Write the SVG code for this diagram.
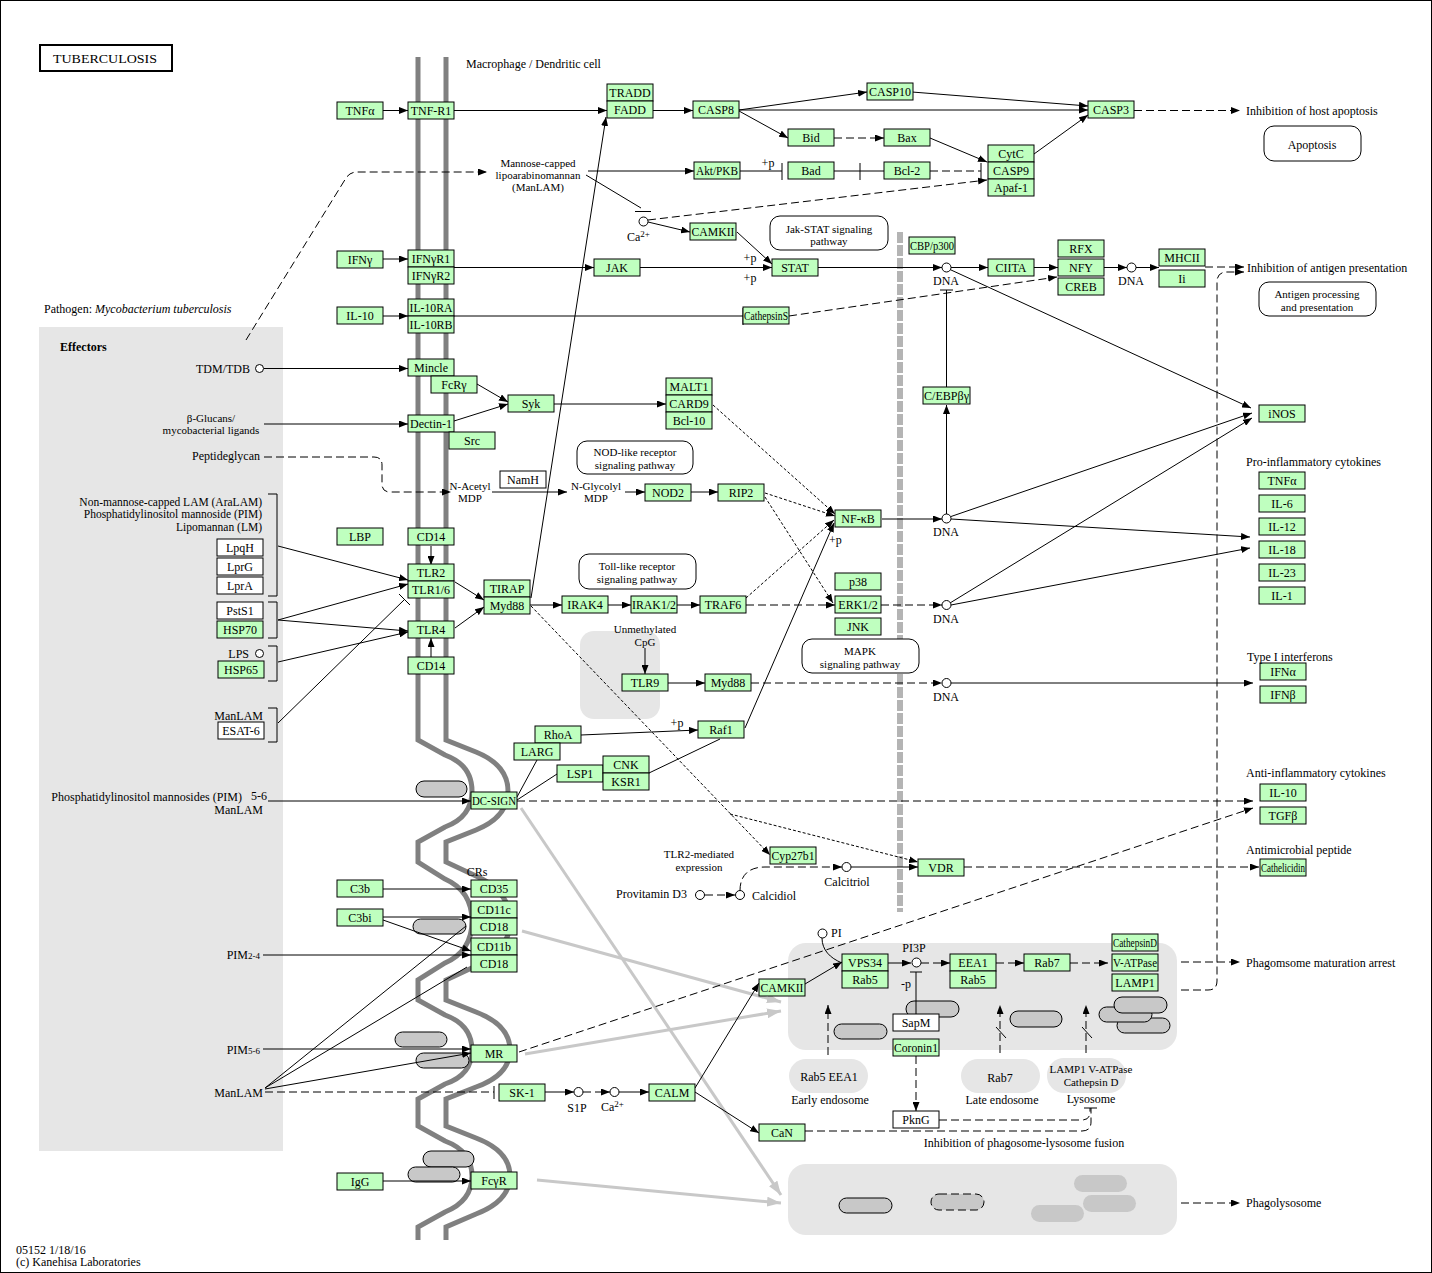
<svg xmlns="http://www.w3.org/2000/svg" width="1432" height="1273" viewBox="0 0 1432 1273">
<style>
.g{fill:#bfffbf;stroke:#000;stroke-width:1}
.w{fill:#fff;stroke:#000;stroke-width:1}
.t{font-family:"Liberation Serif",serif;font-size:12px;text-anchor:middle;fill:#000}
.s{font-family:"Liberation Serif",serif;font-size:11px;text-anchor:middle;fill:#000}
.l{font-family:"Liberation Serif",serif;font-size:12px;text-anchor:start;fill:#000}
.r{font-family:"Liberation Serif",serif;font-size:12px;text-anchor:end;fill:#000}
.rs{font-family:"Liberation Serif",serif;font-size:11.5px;text-anchor:end;fill:#000}
.ln{fill:none;stroke:#000;stroke-width:1}
.ds{stroke-dasharray:8,4}
.dt{stroke-dasharray:3,2}
.ov{fill:#c8c8c8;stroke:#000;stroke-width:1}
.ovn{fill:#c8c8c8;stroke:none}
.gr{fill:none;stroke:#c8c8c8;stroke-width:3}
.mem{fill:none;stroke:#808080;stroke-width:5}
.bg{fill:#e6e6e6;stroke:none}
.rb{fill:#fff;stroke:#000;stroke-width:1}
.ci{fill:#fff;stroke:#000;stroke-width:1}
</style>
<defs>
<marker id="a" viewBox="0 0 9 7" refX="9" refY="3.5" markerWidth="9" markerHeight="7" markerUnits="userSpaceOnUse" orient="auto"><path d="M0,0 L9,3.5 L0,7 z" fill="#000"/></marker>
<marker id="ag" viewBox="0 0 14 10" refX="14" refY="5" markerWidth="14" markerHeight="10" markerUnits="userSpaceOnUse" orient="auto"><path d="M0,0 L14,5 L0,10 z" fill="#c8c8c8"/></marker>
</defs>
<rect x="0.5" y="0.5" width="1431" height="1272" fill="#fff" stroke="#000"/>

<g id="backgrounds">
<rect class="bg" x="39" y="327" width="244" height="824"/>
<rect class="bg" x="580" y="631" width="80" height="88" rx="14"/>
<rect class="bg" x="788" y="943" width="389" height="107" rx="18"/>
<rect class="bg" x="788" y="1164" width="389" height="71" rx="18"/>
<rect class="bg" x="789" y="1059" width="79" height="34" rx="17"/>
<rect class="bg" x="961" y="1059" width="79" height="34" rx="17"/>
<rect class="bg" x="1047" y="1058" width="79" height="35" rx="17"/>
</g>

<g id="membrane">
<path class="mem" d="M418,57 V740 L445,755 Q472,765 472,791 Q472,817 445,827 L418,842 V862 L445,879 Q472,891 472,921 Q472,951 445,963 L418,980 V1000 L445,1015 Q472,1025 472,1050 Q472,1075 445,1084 L418,1099 V1126 L445,1141 Q472,1151 472,1176 Q472,1201 445,1212 L418,1227 V1240"/>
<path class="mem" d="M446,57 V740 L476,752 Q508,765 508,791 Q508,817 476,830 L446,842 V862 L476,876 Q510,891 510,921 Q510,951 476,966 L446,980 V1000 L476,1012 Q510,1025 510,1050 Q510,1075 476,1087 L446,1099 V1126 L476,1138 Q510,1151 510,1176 Q510,1201 476,1214 L446,1227 V1240"/>
</g>
<line x1="900" y1="232" x2="900" y2="912" stroke="#b4b4b4" stroke-width="6" stroke-dasharray="11,2"/>

<g id="ovals">
<rect class="ov" x="416" y="781" width="51" height="16" rx="8"/>
<rect class="ov" x="413" y="919" width="53" height="15" rx="7.5"/>
<rect class="ov" x="395" y="1032" width="52" height="15" rx="7.5"/>
<rect class="ov" x="416" y="1053" width="53" height="15" rx="7.5"/>
<rect class="ov" x="423" y="1151" width="51" height="16" rx="8"/>
<rect class="ov" x="408" y="1167" width="52" height="15" rx="7.5"/>
<rect class="ov" x="906" y="1001" width="53" height="16" rx="8"/>
<rect class="ov" x="834" y="1024" width="53" height="15" rx="7.5"/>
<rect class="ov" x="1010" y="1011" width="52" height="16" rx="8"/>
<rect class="ov" x="1117" y="1018" width="53" height="15" rx="7.5"/>
<rect class="ov" x="1099" y="1007" width="53" height="15" rx="7.5"/>
<rect class="ov" x="1114" y="997" width="53" height="16" rx="8"/>
<rect class="ov" x="839" y="1198" width="53" height="15" rx="7.5"/>
<rect class="ov" x="931" y="1194" width="53" height="16" rx="8" stroke-dasharray="8,4"/>
<rect class="ovn" x="1074" y="1175" width="53" height="17" rx="8.5"/>
<rect class="ovn" x="1083" y="1195" width="53" height="17" rx="8.5"/>
<rect class="ovn" x="1031" y="1205" width="53" height="17" rx="8.5"/>
</g>

<g id="connectors">
<path class="gr" marker-end="url(#ag)" d="M521,808 L781,1195"/>
<path class="gr" marker-end="url(#ag)" d="M522,931 L781,1002"/>
<path class="gr" marker-end="url(#ag)" d="M525,1054 L781,1011"/>
<path class="gr" marker-end="url(#ag)" d="M537,1180 L781,1203"/>

<path class="ln" marker-end="url(#a)" d="M383,110.5 H408"/>
<path class="ln" marker-end="url(#a)" d="M454,110.5 H607"/>
<path class="ln" marker-end="url(#a)" d="M653,110.5 H693"/>
<path class="ln" marker-end="url(#a)" d="M739,110 L867,92"/>
<path class="ln" marker-end="url(#a)" d="M739,110 H1088"/>
<path class="ln" marker-end="url(#a)" d="M912,92 L1088,106"/>
<path class="ln" marker-end="url(#a)" d="M739,111 L788,138"/>
<path class="ln ds" marker-end="url(#a)" d="M834,138 H884"/>
<path class="ln" marker-end="url(#a)" d="M930,138 L987,162"/>
<path class="ln" marker-end="url(#a)" d="M1034,154 L1088,115"/>
<path class="ln ds" d="M930,171 H981"/>
<path class="ln" d="M981,163 V179"/>
<path class="ln ds" marker-end="url(#a)" d="M648,220 L987,180"/>
<path class="ln ds" marker-end="url(#a)" d="M1134,110.5 H1240"/>
<path class="ln" marker-end="url(#a)" d="M588,171 H694"/>
<path class="ln" d="M740,171 H782 M782,163 V180"/>
<path class="ln" d="M834,171 H884 M860,163 V180"/>
<path class="ln" d="M586,175 L641,208 M635,211.5 H651"/>
<path class="ln" marker-end="url(#a)" d="M648,222 L690,232"/>
<path class="ln" marker-end="url(#a)" d="M737,232 L772,264"/>
<path class="ln" marker-end="url(#a)" d="M383,259 H408"/>
<path class="ln" marker-end="url(#a)" d="M454,267.5 H594"/>
<path class="ln" marker-end="url(#a)" d="M640,267.5 H772"/>
<path class="ln" marker-end="url(#a)" d="M818,267.5 H942"/>
<path class="ln" marker-end="url(#a)" d="M951,267.5 H988"/>
<path class="ln" marker-end="url(#a)" d="M1034,267.5 H1058"/>
<path class="ln" marker-end="url(#a)" d="M1104,267.5 H1127"/>
<path class="ln" marker-end="url(#a)" d="M1136,267.5 H1159"/>
<path class="ln ds" marker-end="url(#a)" d="M1205,267 H1244"/>
<path class="ln ds" marker-end="url(#a)" d="M1181,990 H1208 Q1217,990 1217,981 V282 Q1217,272 1227,272 H1244"/>
<path class="ln ds" marker-end="url(#a)" d="M789,316 L1057,277"/>
<path class="ln" marker-end="url(#a)" d="M383,316 H408"/>
<path class="ln" d="M454,316 H743 M743,308 V325"/>
<path class="ln" d="M946.5,290 V387 M940,290 H953"/>
<path class="ln" marker-end="url(#a)" d="M946.5,514 V405"/>
<path class="ln" marker-end="url(#a)" d="M950,269.5 L1251,408"/>
<path class="ln" marker-end="url(#a)" d="M951,516.5 L1252,413"/>
<path class="ln" marker-end="url(#a)" d="M950,603 L1252,418"/>
<path class="ln" marker-end="url(#a)" d="M951,519 L1250,537"/>
<path class="ln" marker-end="url(#a)" d="M951,605 L1250,548"/>
<path class="ln" marker-end="url(#a)" d="M951,683 H1253"/>
<path class="ln" marker-end="url(#a)" d="M882,519 H942"/>
<path class="ln ds" marker-end="url(#a)" d="M881,605 H942"/>
<path class="ln ds" marker-end="url(#a)" d="M751,683 H942"/>

<path class="ln" marker-end="url(#a)" d="M264,368.5 H408"/>
<path class="ln" marker-end="url(#a)" d="M477,384 L508,402"/>
<path class="ln" marker-end="url(#a)" d="M454,421 L508,404"/>
<path class="ln" marker-end="url(#a)" d="M554,404 H666"/>
<path class="ln dt" marker-end="url(#a)" d="M713,405 L835,514"/>
<path class="ln" marker-end="url(#a)" d="M264,424 H408"/>
<path class="ln ds" marker-end="url(#a)" d="M264,457 H374 Q382,457 382,465 V484 Q382,492 390,492 H451"/>
<path class="ln" marker-end="url(#a)" d="M492,492 H567"/>
<path class="ln" marker-end="url(#a)" d="M625,492 H645"/>
<path class="ln" marker-end="url(#a)" d="M691,492 H718"/>
<path class="ln dt" marker-end="url(#a)" d="M765,493 L835,516"/>
<path class="ln dt" marker-end="url(#a)" d="M765,497 L833,603"/>
<path class="ln dt" marker-end="url(#a)" d="M746,598 L834,520"/>
<path class="ln ds" marker-end="url(#a)" d="M746,605 H835"/>
<path class="ln" marker-end="url(#a)" d="M745,728 L834,523"/>
<path class="ln" marker-end="url(#a)" d="M530,605 H562"/>
<path class="ln" marker-end="url(#a)" d="M608,605 H631"/>
<path class="ln" marker-end="url(#a)" d="M677,605 H700"/>
<path class="ln" marker-end="url(#a)" d="M531,598 L606,117"/>
<path class="ln dt" marker-end="url(#a)" d="M531,606 L770,855"/>
<path class="ln dt" marker-end="url(#a)" d="M730,814 L918,862"/>
<path class="ln" marker-end="url(#a)" d="M581,735 L698,730"/>
<path class="ln" d="M649,773 L720,739"/>
<path class="ln" d="M517,797 L537,760"/>
<path class="ln" d="M517,800 L557,774"/>
<path class="ln ds" marker-end="url(#a)" d="M517,801 H1253"/>
<path class="ln" marker-end="url(#a)" d="M268,801 H471"/>
<path class="ln" marker-end="url(#a)" d="M383,889 H471"/>
<path class="ln" marker-end="url(#a)" d="M383,917 H471"/>
<path class="ln" marker-end="url(#a)" d="M383,920 L471,951"/>
<path class="ln" marker-end="url(#a)" d="M263,955 H471"/>
<path class="ln" d="M265,1088 L466,926"/>
<path class="ln" d="M265,1088 L467,967"/>
<path class="ln" marker-end="url(#a)" d="M265,1089 L471,1053"/>
<path class="ln" marker-end="url(#a)" d="M263,1049 H471"/>
<path class="ln ds" d="M265,1092 H494"/>
<path class="ln" d="M494,1086 V1099"/>
<path class="ln" marker-end="url(#a)" d="M545,1092 H574"/>
<path class="ln ds" marker-end="url(#a)" d="M583,1092 H610"/>
<path class="ln" marker-end="url(#a)" d="M619,1092 H649"/>
<path class="ln" marker-end="url(#a)" d="M695,1088 L759,983"/>
<path class="ln" marker-end="url(#a)" d="M695,1092 L759,1133"/>
<path class="ln" marker-end="url(#a)" d="M805,984 L842,962"/>
<path class="ln" d="M822,938 C822,950 830,958 842,963"/>
<path class="ln ds" marker-end="url(#a)" d="M519,1052 L1253,808"/>
<path class="ln" marker-end="url(#a)" d="M887,963 H911"/>
<path class="ln ds" marker-end="url(#a)" d="M921,963 H950"/>
<path class="ln ds" marker-end="url(#a)" d="M996,963 H1024"/>
<path class="ln ds" marker-end="url(#a)" d="M1070,963 H1108"/>
<path class="ln ds" marker-end="url(#a)" d="M1181,962 H1240"/>
<path class="ln ds" marker-end="url(#a)" d="M705,895 H735"/>
<path class="ln ds" marker-end="url(#a)" d="M740,890.5 C740,876 748,867 765,867 H842"/>
<path class="ln" marker-end="url(#a)" d="M851,867 H918"/>
<path class="ln ds" marker-end="url(#a)" d="M964,867 H1259"/>
<path class="ln" d="M916,1014 V972 M910,972 H922"/>
<path class="ln ds" marker-end="url(#a)" d="M916,1056 V1111"/>
<path class="ln ds" d="M939,1120 H1082 Q1090,1120 1090,1112 V1108"/>
<path class="ln ds" d="M805,1131 H1082 Q1091,1131 1091,1122 V1108"/>
<path class="ln" d="M1084,1108 H1097"/>
<path class="ln ds" marker-end="url(#a)" d="M828,1055 V1005"/>
<path class="ln ds" marker-end="url(#a)" d="M1000,1053 V1005"/>
<path class="ln" d="M996,1027 L1006,1038"/>
<path class="ln ds" marker-end="url(#a)" d="M1086,1053 V1005"/>
<path class="ln" d="M1082,1027 L1092,1038"/>
<path class="ln ds" marker-end="url(#a)" d="M1181,1203 H1240"/>

<path class="ln" marker-end="url(#a)" d="M431,546 V565"/>
<path class="ln" marker-end="url(#a)" d="M431,657 V638"/>
<path class="ln" marker-end="url(#a)" d="M455,582 L484,600"/>
<path class="ln" marker-end="url(#a)" d="M455,628 L484,607"/>
<path class="ln" marker-end="url(#a)" d="M278,546 L408,580"/>
<path class="ln" marker-end="url(#a)" d="M278,620 L408,584"/>
<path class="ln" marker-end="url(#a)" d="M278,620 L408,631"/>
<path class="ln" marker-end="url(#a)" d="M278,662 L408,632"/>
<path class="ln" d="M278,723 L404,600 M399,594 L410,605"/>
<path class="ln" marker-end="url(#a)" d="M645,648 V674"/>
<path class="ln" marker-end="url(#a)" d="M668,683 H705"/>
<path class="ln" marker-end="url(#a)" d="M383,1181 H471"/>
<path class="ln ds" marker-end="url(#a)" d="M246,340 L346,178 Q350,172 357,172 H487"/>

<path class="ln" d="M268,494 H277 V596 H268"/>
<path class="ln" d="M268,602 H277 V638 H268"/>
<path class="ln" d="M268,646 H277 V681 H268"/>
<path class="ln" d="M268,708 H277 V742 H268"/>
</g>

<g id="compounds">
<circle class="ci" cx="259.5" cy="368.5" r="4"/>
<circle class="ci" cx="259.5" cy="653.5" r="4"/>
<circle class="ci" cx="643.5" cy="221.5" r="4.5"/>
<circle class="ci" cx="946.5" cy="267.5" r="4.5"/>
<circle class="ci" cx="1131.5" cy="267.5" r="4.5"/>
<circle class="ci" cx="946.5" cy="518.5" r="4.5"/>
<circle class="ci" cx="946.5" cy="605" r="4.5"/>
<circle class="ci" cx="946.5" cy="683" r="4.5"/>
<circle class="ci" cx="700" cy="895" r="4.5"/>
<circle class="ci" cx="740" cy="895" r="4.5"/>
<circle class="ci" cx="846.5" cy="867" r="4.5"/>
<circle class="ci" cx="578.5" cy="1092" r="4.5"/>
<circle class="ci" cx="614.5" cy="1092" r="4.5"/>
<circle class="ci" cx="822.5" cy="933.5" r="4.5"/>
<circle class="ci" cx="916.5" cy="962.5" r="4.5"/>
</g>

<g id="pathway-boxes">
<rect class="rb" x="1264" y="126" width="97" height="35" rx="10"/>
<rect class="rb" x="770" y="216" width="118" height="34" rx="10"/>
<rect class="rb" x="1259" y="282" width="117" height="34" rx="10"/>
<rect class="rb" x="577" y="441" width="116" height="33" rx="10"/>
<rect class="rb" x="579" y="554" width="117" height="35" rx="10"/>
<rect class="rb" x="802" y="639" width="117" height="34" rx="10"/>
<rect x="40" y="45" width="132" height="26" fill="#fff" stroke="#000" stroke-width="2"/>
</g>

<g id="nodes">
<g id="n-TNFa"><rect class="g" x="337" y="102" width="46" height="17"/><text class="t" x="360" y="115">TNFα</text></g>
<g id="n-TNFR1"><rect class="g" x="408" y="102" width="46" height="17"/><text class="t" x="431" y="115">TNF-R1</text></g>
<g id="n-TRADD"><rect class="g" x="607" y="84" width="46" height="17"/><text class="t" x="630" y="97">TRADD</text></g>
<g id="n-FADD"><rect class="g" x="607" y="101" width="46" height="17"/><text class="t" x="630" y="114">FADD</text></g>
<g id="n-CASP8"><rect class="g" x="693" y="101" width="46" height="17"/><text class="t" x="716" y="114">CASP8</text></g>
<g id="n-CASP10"><rect class="g" x="867" y="83" width="46" height="17"/><text class="t" x="890" y="96">CASP10</text></g>
<g id="n-CASP3"><rect class="g" x="1088" y="101" width="46" height="17"/><text class="t" x="1111" y="114">CASP3</text></g>
<g id="n-Bid"><rect class="g" x="788" y="129" width="46" height="17"/><text class="t" x="811" y="142">Bid</text></g>
<g id="n-Bax"><rect class="g" x="884" y="129" width="46" height="17"/><text class="t" x="907" y="142">Bax</text></g>
<g id="n-Akt"><rect class="g" x="694" y="162" width="46" height="17"/><text class="t" x="717" y="175" textLength="42" lengthAdjust="spacingAndGlyphs">Akt/PKB</text></g>
<g id="n-Bad"><rect class="g" x="788" y="162" width="46" height="17"/><text class="t" x="811" y="175">Bad</text></g>
<g id="n-Bcl2"><rect class="g" x="884" y="162" width="46" height="17"/><text class="t" x="907" y="175">Bcl-2</text></g>
<g id="n-CytC"><rect class="g" x="988" y="145" width="46" height="17"/><text class="t" x="1011" y="158">CytC</text></g>
<g id="n-CASP9"><rect class="g" x="988" y="162" width="46" height="17"/><text class="t" x="1011" y="175">CASP9</text></g>
<g id="n-Apaf1"><rect class="g" x="988" y="179" width="46" height="17"/><text class="t" x="1011" y="192">Apaf-1</text></g>
<g id="n-CAMKII"><rect class="g" x="690" y="223" width="46" height="17"/><text class="t" x="713" y="236" textLength="43" lengthAdjust="spacingAndGlyphs">CAMKII</text></g>
<g id="n-IFNg"><rect class="g" x="337" y="251" width="46" height="17"/><text class="t" x="360" y="264">IFNγ</text></g>
<g id="n-IFNgR1"><rect class="g" x="408" y="250" width="46" height="17"/><text class="t" x="431" y="263">IFNγR1</text></g>
<g id="n-IFNgR2"><rect class="g" x="408" y="267" width="46" height="17"/><text class="t" x="431" y="280">IFNγR2</text></g>
<g id="n-JAK"><rect class="g" x="594" y="259" width="46" height="17"/><text class="t" x="617" y="272">JAK</text></g>
<g id="n-STAT"><rect class="g" x="772" y="259" width="46" height="17"/><text class="t" x="795" y="272">STAT</text></g>
<g id="n-CBP"><rect class="g" x="909" y="237" width="46" height="17"/><text class="t" x="932" y="250" textLength="44" lengthAdjust="spacingAndGlyphs">CBP/p300</text></g>
<g id="n-CIITA"><rect class="g" x="988" y="259" width="46" height="17"/><text class="t" x="1011" y="272">CIITA</text></g>
<g id="n-RFX"><rect class="g" x="1058" y="240" width="46" height="17"/><text class="t" x="1081" y="253">RFX</text></g>
<g id="n-NFY"><rect class="g" x="1058" y="259" width="46" height="17"/><text class="t" x="1081" y="272">NFY</text></g>
<g id="n-CREB"><rect class="g" x="1058" y="278" width="46" height="17"/><text class="t" x="1081" y="291">CREB</text></g>
<g id="n-MHCII"><rect class="g" x="1159" y="249" width="46" height="17"/><text class="t" x="1182" y="262">MHCII</text></g>
<g id="n-Ii"><rect class="g" x="1159" y="270" width="46" height="17"/><text class="t" x="1182" y="283">Ii</text></g>
<g id="n-IL10"><rect class="g" x="337" y="307" width="46" height="17"/><text class="t" x="360" y="320">IL-10</text></g>
<g id="n-IL10RA"><rect class="g" x="408" y="299" width="46" height="17"/><text class="t" x="431" y="312" textLength="43" lengthAdjust="spacingAndGlyphs">IL-10RA</text></g>
<g id="n-IL10RB"><rect class="g" x="408" y="316" width="46" height="17"/><text class="t" x="431" y="329" textLength="43" lengthAdjust="spacingAndGlyphs">IL-10RB</text></g>
<g id="n-CathepsinS"><rect class="g" x="743" y="307" width="46" height="17"/><text class="t" x="766" y="320" textLength="44" lengthAdjust="spacingAndGlyphs">CathepsinS</text></g>
<g id="n-Mincle"><rect class="g" x="408" y="359" width="46" height="17"/><text class="t" x="431" y="372">Mincle</text></g>
<g id="n-FcRg"><rect class="g" x="431" y="376" width="46" height="17"/><text class="t" x="454" y="389">FcRγ</text></g>
<g id="n-Dectin1"><rect class="g" x="408" y="415" width="46" height="17"/><text class="t" x="431" y="428">Dectin-1</text></g>
<g id="n-Src"><rect class="g" x="449" y="432" width="46" height="17"/><text class="t" x="472" y="445">Src</text></g>
<g id="n-Syk"><rect class="g" x="508" y="395" width="46" height="17"/><text class="t" x="531" y="408">Syk</text></g>
<g id="n-MALT1"><rect class="g" x="666" y="378" width="46" height="17"/><text class="t" x="689" y="391">MALT1</text></g>
<g id="n-CARD9"><rect class="g" x="666" y="395" width="46" height="17"/><text class="t" x="689" y="408">CARD9</text></g>
<g id="n-Bcl10"><rect class="g" x="666" y="412" width="46" height="17"/><text class="t" x="689" y="425">Bcl-10</text></g>
<g id="n-iNOS"><rect class="g" x="1259" y="405" width="46" height="17"/><text class="t" x="1282" y="418">iNOS</text></g>
<g id="n-CEBP"><rect class="g" x="923" y="387" width="47" height="17"/><text class="t" x="946.5" y="400" textLength="45" lengthAdjust="spacingAndGlyphs">C/EBPβγ</text></g>
<g id="n-NamH"><rect class="w" x="500" y="471" width="46" height="17"/><text class="t" x="523" y="484">NamH</text></g>
<g id="n-NOD2"><rect class="g" x="645" y="484" width="46" height="17"/><text class="t" x="668" y="497">NOD2</text></g>
<g id="n-RIP2"><rect class="g" x="718" y="484" width="46" height="17"/><text class="t" x="741" y="497">RIP2</text></g>
<g id="n-NFkB"><rect class="g" x="835" y="510" width="46" height="17"/><text class="t" x="858" y="523">NF-κB</text></g>
<g id="n-TNFa2"><rect class="g" x="1259" y="472" width="46" height="17"/><text class="t" x="1282" y="485">TNFα</text></g>
<g id="n-IL6"><rect class="g" x="1259" y="495" width="46" height="17"/><text class="t" x="1282" y="508">IL-6</text></g>
<g id="n-IL12"><rect class="g" x="1259" y="518" width="46" height="17"/><text class="t" x="1282" y="531">IL-12</text></g>
<g id="n-IL18"><rect class="g" x="1259" y="541" width="46" height="17"/><text class="t" x="1282" y="554">IL-18</text></g>
<g id="n-IL23"><rect class="g" x="1259" y="564" width="46" height="17"/><text class="t" x="1282" y="577">IL-23</text></g>
<g id="n-IL1"><rect class="g" x="1259" y="587" width="46" height="17"/><text class="t" x="1282" y="600">IL-1</text></g>
<g id="n-LBP"><rect class="g" x="337" y="528" width="46" height="17"/><text class="t" x="360" y="541">LBP</text></g>
<g id="n-CD14a"><rect class="g" x="408" y="528" width="46" height="17"/><text class="t" x="431" y="541">CD14</text></g>
<g id="n-TLR2"><rect class="g" x="408" y="564" width="46" height="17"/><text class="t" x="431" y="577">TLR2</text></g>
<g id="n-TLR16"><rect class="g" x="408" y="581" width="46" height="17"/><text class="t" x="431" y="594">TLR1/6</text></g>
<g id="n-TLR4"><rect class="g" x="408" y="621" width="46" height="17"/><text class="t" x="431" y="634">TLR4</text></g>
<g id="n-CD14b"><rect class="g" x="408" y="657" width="46" height="17"/><text class="t" x="431" y="670">CD14</text></g>
<g id="n-LpqH"><rect class="w" x="217" y="539" width="46" height="17"/><text class="t" x="240" y="552">LpqH</text></g>
<g id="n-LprG"><rect class="w" x="217" y="558" width="46" height="17"/><text class="t" x="240" y="571">LprG</text></g>
<g id="n-LprA"><rect class="w" x="217" y="577" width="46" height="17"/><text class="t" x="240" y="590">LprA</text></g>
<g id="n-PstS1"><rect class="w" x="217" y="602" width="46" height="17"/><text class="t" x="240" y="615">PstS1</text></g>
<g id="n-HSP70"><rect class="g" x="217" y="621" width="46" height="17"/><text class="t" x="240" y="634">HSP70</text></g>
<g id="n-HSP65"><rect class="g" x="218" y="661" width="46" height="17"/><text class="t" x="241" y="674">HSP65</text></g>
<g id="n-ESAT6"><rect class="w" x="218" y="722" width="46" height="17"/><text class="t" x="241" y="735">ESAT-6</text></g>
<g id="n-TIRAP"><rect class="g" x="484" y="580" width="46" height="17"/><text class="t" x="507" y="593">TIRAP</text></g>
<g id="n-Myd88a"><rect class="g" x="484" y="597" width="46" height="17"/><text class="t" x="507" y="610">Myd88</text></g>
<g id="n-IRAK4"><rect class="g" x="562" y="596" width="46" height="17"/><text class="t" x="585" y="609">IRAK4</text></g>
<g id="n-IRAK12"><rect class="g" x="631" y="596" width="46" height="17"/><text class="t" x="654" y="609" textLength="44" lengthAdjust="spacingAndGlyphs">IRAK1/2</text></g>
<g id="n-TRAF6"><rect class="g" x="700" y="596" width="46" height="17"/><text class="t" x="723" y="609">TRAF6</text></g>
<g id="n-p38"><rect class="g" x="835" y="573" width="46" height="17"/><text class="t" x="858" y="586">p38</text></g>
<g id="n-ERK"><rect class="g" x="835" y="596" width="46" height="17"/><text class="t" x="858" y="609">ERK1/2</text></g>
<g id="n-JNK"><rect class="g" x="835" y="618" width="46" height="17"/><text class="t" x="858" y="631">JNK</text></g>
<g id="n-TLR9"><rect class="g" x="622" y="674" width="46" height="17"/><text class="t" x="645" y="687">TLR9</text></g>
<g id="n-Myd88b"><rect class="g" x="705" y="674" width="46" height="17"/><text class="t" x="728" y="687">Myd88</text></g>
<g id="n-IFNa"><rect class="g" x="1260" y="663" width="46" height="17"/><text class="t" x="1283" y="676">IFNα</text></g>
<g id="n-IFNb"><rect class="g" x="1260" y="686" width="46" height="17"/><text class="t" x="1283" y="699">IFNβ</text></g>
<g id="n-Raf1"><rect class="g" x="698" y="721" width="46" height="17"/><text class="t" x="721" y="734">Raf1</text></g>
<g id="n-RhoA"><rect class="g" x="535" y="726" width="46" height="17"/><text class="t" x="558" y="739">RhoA</text></g>
<g id="n-LARG"><rect class="g" x="514" y="743" width="46" height="17"/><text class="t" x="537" y="756">LARG</text></g>
<g id="n-LSP1"><rect class="g" x="557" y="765" width="46" height="17"/><text class="t" x="580" y="778">LSP1</text></g>
<g id="n-CNK"><rect class="g" x="603" y="756" width="46" height="17"/><text class="t" x="626" y="769">CNK</text></g>
<g id="n-KSR1"><rect class="g" x="603" y="773" width="46" height="17"/><text class="t" x="626" y="786">KSR1</text></g>
<g id="n-DCSIGN"><rect class="g" x="471" y="792" width="46" height="17"/><text class="t" x="494" y="805" textLength="44" lengthAdjust="spacingAndGlyphs">DC-SIGN</text></g>
<g id="n-IL10b"><rect class="g" x="1260" y="784" width="46" height="17"/><text class="t" x="1283" y="797">IL-10</text></g>
<g id="n-TGFb"><rect class="g" x="1260" y="807" width="46" height="17"/><text class="t" x="1283" y="820">TGFβ</text></g>
<g id="n-Cyp27b1"><rect class="g" x="770" y="847" width="46" height="17"/><text class="t" x="793" y="860" textLength="43" lengthAdjust="spacingAndGlyphs">Cyp27b1</text></g>
<g id="n-VDR"><rect class="g" x="918" y="859" width="46" height="17"/><text class="t" x="941" y="872">VDR</text></g>
<g id="n-Cathelicidin"><rect class="g" x="1260" y="859" width="46" height="17"/><text class="t" x="1283" y="872" textLength="44" lengthAdjust="spacingAndGlyphs">Cathelicidin</text></g>
<g id="n-C3b"><rect class="g" x="337" y="880" width="46" height="17"/><text class="t" x="360" y="893">C3b</text></g>
<g id="n-C3bi"><rect class="g" x="337" y="909" width="46" height="17"/><text class="t" x="360" y="922">C3bi</text></g>
<g id="n-CD35"><rect class="g" x="471" y="880" width="46" height="17"/><text class="t" x="494" y="893">CD35</text></g>
<g id="n-CD11c"><rect class="g" x="471" y="901" width="46" height="17"/><text class="t" x="494" y="914">CD11c</text></g>
<g id="n-CD18a"><rect class="g" x="471" y="918" width="46" height="17"/><text class="t" x="494" y="931">CD18</text></g>
<g id="n-CD11b"><rect class="g" x="471" y="938" width="46" height="17"/><text class="t" x="494" y="951">CD11b</text></g>
<g id="n-CD18b"><rect class="g" x="471" y="955" width="46" height="17"/><text class="t" x="494" y="968">CD18</text></g>
<g id="n-CAMKII2"><rect class="g" x="759" y="979" width="46" height="17"/><text class="t" x="782" y="992" textLength="43" lengthAdjust="spacingAndGlyphs">CAMKII</text></g>
<g id="n-VPS34"><rect class="g" x="842" y="954" width="46" height="17"/><text class="t" x="865" y="967">VPS34</text></g>
<g id="n-Rab5a"><rect class="g" x="842" y="971" width="46" height="17"/><text class="t" x="865" y="984">Rab5</text></g>
<g id="n-EEA1"><rect class="g" x="950" y="954" width="46" height="17"/><text class="t" x="973" y="967">EEA1</text></g>
<g id="n-Rab5b"><rect class="g" x="950" y="971" width="46" height="17"/><text class="t" x="973" y="984">Rab5</text></g>
<g id="n-Rab7"><rect class="g" x="1024" y="954" width="46" height="17"/><text class="t" x="1047" y="967">Rab7</text></g>
<g id="n-CathepsinD"><rect class="g" x="1112" y="934" width="46" height="17"/><text class="t" x="1135" y="947" textLength="44" lengthAdjust="spacingAndGlyphs">CathepsinD</text></g>
<g id="n-VATPase"><rect class="g" x="1112" y="954" width="46" height="17"/><text class="t" x="1135" y="967" textLength="44" lengthAdjust="spacingAndGlyphs">V-ATPase</text></g>
<g id="n-LAMP1"><rect class="g" x="1112" y="974" width="46" height="17"/><text class="t" x="1135" y="987">LAMP1</text></g>
<g id="n-SapM"><rect class="w" x="893" y="1014" width="46" height="17"/><text class="t" x="916" y="1027">SapM</text></g>
<g id="n-Coronin1"><rect class="g" x="893" y="1039" width="46" height="17"/><text class="t" x="916" y="1052" textLength="44" lengthAdjust="spacingAndGlyphs">Coronin1</text></g>
<g id="n-PknG"><rect class="w" x="893" y="1111" width="46" height="17"/><text class="t" x="916" y="1124">PknG</text></g>
<g id="n-MR"><rect class="g" x="471" y="1045" width="46" height="17"/><text class="t" x="494" y="1058">MR</text></g>
<g id="n-SK1"><rect class="g" x="499" y="1084" width="46" height="17"/><text class="t" x="522" y="1097">SK-1</text></g>
<g id="n-CALM"><rect class="g" x="649" y="1084" width="46" height="17"/><text class="t" x="672" y="1097">CALM</text></g>
<g id="n-CaN"><rect class="g" x="759" y="1124" width="46" height="17"/><text class="t" x="782" y="1137">CaN</text></g>
<g id="n-IgG"><rect class="g" x="337" y="1173" width="46" height="17"/><text class="t" x="360" y="1186">IgG</text></g>
<g id="n-FcgR"><rect class="g" x="471" y="1172" width="46" height="17"/><text class="t" x="494" y="1185">FcγR</text></g>
</g>

<g id="labels">
<text class="l" x="53" y="63" textLength="104" lengthAdjust="spacingAndGlyphs">TUBERCULOSIS</text>
<text class="l" x="466" y="68">Macrophage / Dendritic cell</text>
<text class="l" x="44" y="313">Pathogen: <tspan font-style="italic">Mycobacterium tuberculosis</tspan></text>
<text class="l" x="60" y="351" font-weight="bold">Effectors</text>
<text class="r" x="250" y="373">TDM/TDB</text>
<text class="s" x="211" y="421.5">β-Glucans/</text>
<text class="s" x="211" y="434">mycobacterial ligands</text>
<text class="r" x="260" y="460">Peptideglycan</text>
<text class="rs" x="262" y="505.5">Non-mannose-capped LAM (AraLAM)</text>
<text class="rs" x="262" y="518">Phosphatidylinositol mannoside (PIM)</text>
<text class="rs" x="262" y="530.5">Lipomannan (LM)</text>
<text class="r" x="249" y="658">LPS</text>
<text class="r" x="263" y="720">ManLAM</text>
<text class="r" x="242" y="801">Phosphatidylinositol mannosides (PIM)</text>
<text class="l" x="251" y="800" font-size="9">5-6</text>
<text class="r" x="263" y="814">ManLAM</text>
<text class="r" x="260" y="959">PIM<tspan font-size="9">2-4</tspan></text>
<text class="r" x="260" y="1054">PIM<tspan font-size="9">5-6</tspan></text>
<text class="r" x="263" y="1097">ManLAM</text>
<text class="s" x="538" y="167">Mannose-capped</text>
<text class="s" x="538" y="179">lipoarabinomannan</text>
<text class="s" x="538" y="191">(ManLAM)</text>
<text class="l" x="627" y="241">Ca<tspan font-size="9" dy="-4">2+</tspan></text>
<text class="t" x="768" y="167">+p</text>
<text class="t" x="750" y="262">+p</text>
<text class="t" x="750" y="282">+p</text>
<text class="t" x="946" y="285">DNA</text>
<text class="t" x="1131" y="285">DNA</text>
<text class="t" x="946" y="536">DNA</text>
<text class="t" x="946" y="623">DNA</text>
<text class="t" x="946" y="701">DNA</text>
<text class="l" x="1246" y="115">Inhibition of host apoptosis</text>
<text class="t" x="1312" y="149">Apoptosis</text>
<text class="s" x="829" y="232.5">Jak-STAT signaling</text>
<text class="s" x="829" y="245">pathway</text>
<text class="l" x="1247" y="272">Inhibition of antigen presentation</text>
<text class="s" x="1317" y="298">Antigen processing</text>
<text class="s" x="1317" y="310.5">and presentation</text>
<text class="l" x="1246" y="466">Pro-inflammatory cytokines</text>
<text class="s" x="635" y="456">NOD-like receptor</text>
<text class="s" x="635" y="468.5">signaling pathway</text>
<text class="s" x="470" y="489.5">N-Acetyl</text>
<text class="s" x="470" y="502">MDP</text>
<text class="s" x="596" y="489.5">N-Glycolyl</text>
<text class="s" x="596" y="502">MDP</text>
<text class="l" x="829" y="544">+p</text>
<text class="s" x="637" y="570">Toll-like receptor</text>
<text class="s" x="637" y="582.5">signaling pathway</text>
<text class="s" x="645" y="633">Unmethylated</text>
<text class="s" x="645" y="645.5">CpG</text>
<text class="s" x="860" y="655">MAPK</text>
<text class="s" x="860" y="667.5">signaling pathway</text>
<text class="l" x="1247" y="661">Type I interferons</text>
<text class="t" x="677" y="727">+p</text>
<text class="l" x="1246" y="777">Anti-inflammatory cytokines</text>
<text class="l" x="1246" y="854">Antimicrobial peptide</text>
<text class="s" x="699" y="858">TLR2-mediated</text>
<text class="s" x="699" y="870.5">expression</text>
<text class="t" x="477" y="876">CRs</text>
<text class="r" x="687" y="898">Provitamin D3</text>
<text class="l" x="752" y="900">Calcidiol</text>
<text class="t" x="847" y="886">Calcitriol</text>
<text class="l" x="831" y="937">PI</text>
<text class="t" x="914" y="952">PI3P</text>
<text class="t" x="906" y="988">-p</text>
<text class="l" x="1246" y="967">Phagomsome maturation arrest</text>
<text class="t" x="577" y="1112">S1P</text>
<text class="l" x="601" y="1111">Ca<tspan font-size="9" dy="-4">2+</tspan></text>
<text class="t" x="829" y="1081">Rab5  EEA1</text>
<text class="t" x="830" y="1104">Early endosome</text>
<text class="t" x="1000" y="1082">Rab7</text>
<text class="t" x="1002" y="1104">Late endosome</text>
<text class="s" x="1091" y="1073">LAMP1 V-ATPase</text>
<text class="s" x="1091" y="1085.5">Cathepsin D</text>
<text class="t" x="1091" y="1103">Lysosome</text>
<text class="t" x="1024" y="1147">Inhibition of phagosome-lysosome fusion</text>
<text class="l" x="1246" y="1207">Phagolysosome</text>
<text class="l" x="16" y="1254" font-size="11">05152 1/18/16</text>
<text class="l" x="16" y="1266" font-size="11">(c) Kanehisa Laboratories</text>
</g>
</svg>
